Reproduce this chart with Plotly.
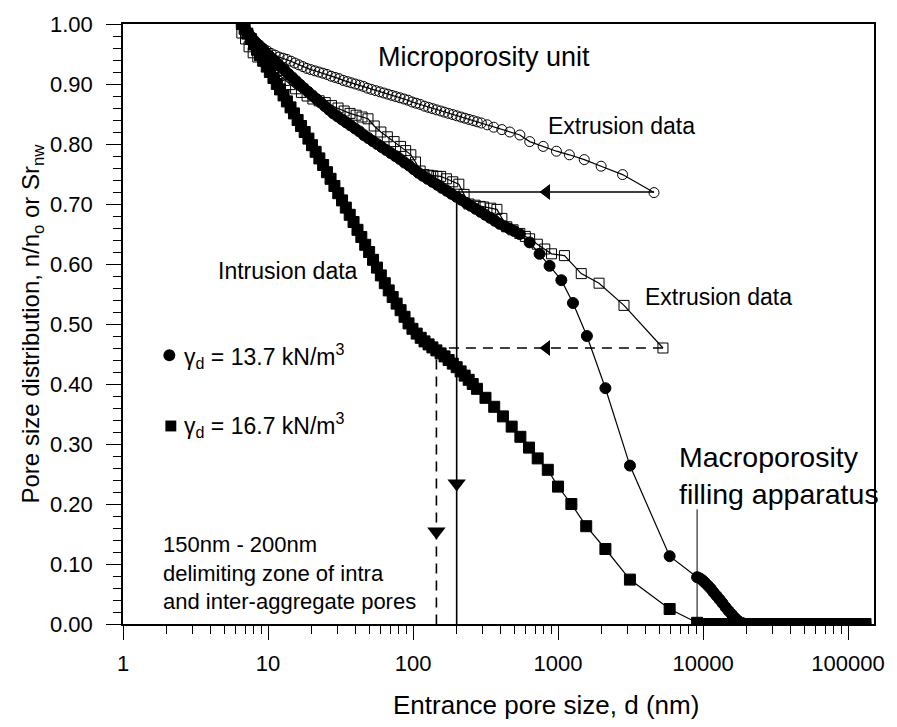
import numpy as np
import plotly.graph_objects as go

# ---------------- data ----------------
# gamma_d = 13.7 kN/m3, intrusion (filled circles)
fc_dense_x = [6.6, 6.9, 7.3, 7.7, 8.1, 8.6, 9.1, 9.6, 10.2, 10.8, 11.5, 12.2, 13.0, 13.8, 14.7,
              15.6, 16.6, 17.7, 18.9, 20.2, 21.6, 23.1, 24.7, 26.4, 28.2, 30.2, 32.3, 34.6, 37.1,
              39.8, 42.7, 45.8, 49.1, 52.7, 56.6, 60.8, 65.3, 70.2, 75.5, 81.2, 87.4, 94.1, 101,
              109, 117, 126, 136, 147, 158, 171, 184, 199, 215, 232, 250, 270, 292, 315, 340, 367,
              396, 428, 462, 499]
fc_dense_y = [1.000, 0.993, 0.985, 0.978, 0.971, 0.965, 0.959, 0.953, 0.947, 0.941, 0.935, 0.929,
              0.923, 0.917, 0.911, 0.905, 0.899, 0.893, 0.887, 0.881, 0.875, 0.869, 0.863, 0.857,
              0.851, 0.846, 0.841, 0.836, 0.831, 0.826, 0.821, 0.815, 0.810, 0.805, 0.800, 0.795,
              0.790, 0.785, 0.780, 0.775, 0.769, 0.764, 0.758, 0.752, 0.747, 0.742, 0.737, 0.732,
              0.727, 0.722, 0.717, 0.712, 0.707, 0.702, 0.697, 0.692, 0.687, 0.682, 0.677, 0.672,
              0.667, 0.663, 0.659, 0.655]
fc_sparse_x = [544, 637, 746, 874, 1054, 1268, 1582, 2122, 3133, 5885, 9100]
fc_sparse_y = [0.650, 0.636, 0.617, 0.597, 0.573, 0.535, 0.480, 0.393, 0.264, 0.113, 0.078]
fc_macro_x = [9500, 9900, 10300, 10800, 11300, 11800, 12400, 13000, 13600, 14300, 15000, 15800,
              16600, 17500, 18500, 19500]
fc_macro_y = [0.076, 0.073, 0.069, 0.064, 0.059, 0.053, 0.047, 0.041, 0.035, 0.028, 0.022, 0.016,
              0.010, 0.005, 0.002, 0.000]
tail_x = [20500, 21600, 22700, 23900, 25100, 26400, 27800, 29200, 30700, 32300, 34000, 35800,
          37600, 39600, 41600, 43800, 46000, 48400, 50900, 53600, 56400, 59300, 62400, 65600,
          69000, 72600, 76400, 80400, 84500, 88900, 93500, 98400, 103500, 108900, 114500, 120500,
          126700, 132000]
tail_y = [0.0, 0.0, 0.0, 0.0, 0.0, 0.0, 0.0, 0.0, 0.0, 0.0, 0.0, 0.0, 0.0, 0.0, 0.0, 0.0, 0.0,
          0.0, 0.0, 0.0, 0.0, 0.0, 0.0, 0.0, 0.0, 0.0, 0.0, 0.0, 0.0, 0.0, 0.0, 0.0, 0.0, 0.0,
          0.0, 0.0, 0.0, 0.0]

# gamma_d = 16.7 kN/m3, intrusion (filled squares)
fs_dense_x = [6.6, 6.9, 7.2, 7.6, 8.0, 8.4, 8.8, 9.3, 9.8, 10.3, 10.9, 11.5, 12.1, 12.8, 13.5,
              14.3, 15.1, 16.0, 16.9, 17.9, 19.0, 20.1, 21.3, 22.6, 24.0, 25.5, 27.0, 28.7, 30.5,
              32.4, 34.4, 36.6, 38.9, 41.4, 44.0, 46.8, 49.8, 53.0, 56.4, 60.0, 63.9, 68.0, 72.4,
              77.1, 82.1, 87.4, 93.1, 99.1, 106, 113, 120, 128, 136, 145, 155, 165, 176, 188, 200,
              213, 227, 242, 258, 276]
fs_dense_y = [1.000, 0.992, 0.984, 0.975, 0.966, 0.957, 0.948, 0.939, 0.929, 0.920, 0.910, 0.900,
              0.891, 0.881, 0.871, 0.861, 0.851, 0.840, 0.830, 0.820, 0.809, 0.798, 0.787, 0.776,
              0.765, 0.753, 0.742, 0.730, 0.718, 0.706, 0.694, 0.682, 0.670, 0.657, 0.645, 0.632,
              0.620, 0.607, 0.594, 0.581, 0.568, 0.556, 0.545, 0.534, 0.523, 0.512, 0.501, 0.492,
              0.484, 0.477, 0.471, 0.466, 0.461, 0.456, 0.451, 0.446, 0.440, 0.434, 0.428, 0.421,
              0.414, 0.407, 0.400, 0.392]
fs_mid_x = [316, 363, 417, 479, 550, 631, 724, 850]
fs_mid_y = [0.377, 0.362, 0.346, 0.329, 0.312, 0.294, 0.276, 0.257]
fs_sparse_x = [1000, 1236, 1565, 2122, 3133, 5885, 9100]
fs_sparse_y = [0.229, 0.200, 0.163, 0.125, 0.074, 0.025, 0.002]
fs_zero_x = [9600, 10100, 10700, 11300, 11900, 12600, 13300, 14000, 14800, 15600, 16500, 17400,
             18400, 19400]
fs_zero_y = [0.0, 0.0, 0.0, 0.0, 0.0, 0.0, 0.0, 0.0, 0.0, 0.0, 0.0, 0.0, 0.0, 0.0]

# gamma_d = 13.7 kN/m3, extrusion (open circles)
oc_x = [6.6, 7.0, 7.4, 7.8, 8.3, 8.8, 9.3, 9.9, 10.5, 11.2, 11.9, 12.7, 13.5, 14.4, 15.3, 16.3,
        17.4, 18.5, 19.7, 21.0, 22.4, 23.9, 25.5, 27.2, 29.0, 30.9, 33.0, 35.2, 37.5, 40.0, 42.7,
        45.5, 48.5, 51.7, 55.2, 58.9, 62.8, 67.0, 71.5, 76.2, 81.3, 86.7, 92.5, 98.7, 105, 112,
        120, 128, 136, 145, 155, 165, 176, 188, 200, 214, 228, 243, 260, 277, 296, 325, 360, 410,
        465, 546, 638, 790, 975, 1197, 1517, 1982, 2786, 4590]
oc_y = [1.000, 0.990, 0.982, 0.975, 0.969, 0.964, 0.959, 0.955, 0.951, 0.948, 0.945, 0.943,
        0.941, 0.938, 0.935, 0.932, 0.929, 0.926, 0.924, 0.922, 0.920, 0.918, 0.916, 0.913,
        0.911, 0.909, 0.906, 0.904, 0.902, 0.900, 0.898, 0.896, 0.893, 0.891, 0.889, 0.887,
        0.885, 0.883, 0.881, 0.879, 0.877, 0.875, 0.873, 0.870, 0.868, 0.866, 0.863, 0.861,
        0.859, 0.857, 0.855, 0.853, 0.851, 0.849, 0.847, 0.845, 0.843, 0.841, 0.839, 0.837,
        0.835, 0.832, 0.828, 0.824, 0.820, 0.815, 0.804, 0.796, 0.788, 0.782, 0.774, 0.763,
        0.749, 0.719]

# gamma_d = 16.7 kN/m3, extrusion (open squares)
os_x = [6.6, 7.0, 7.4, 7.9, 8.5, 9.2, 10.0, 10.9, 11.9, 13.0, 14.2, 15.5, 17.0, 18.6, 20.4, 22.5,
        24.8, 27.4, 30.4, 33.5, 36.8, 40.5, 44.5, 48.9, 54.0, 60.0, 66.5, 74.0, 82.0, 89.0, 96.6,
        104, 112, 119, 128, 137, 146, 155, 170, 188, 207, 225, 243, 268, 290, 307, 343, 379, 410,
        443, 490, 545, 595, 637, 720, 810, 902, 1107, 1446, 1918, 2851, 5290]
os_y = [0.985, 0.975, 0.962, 0.952, 0.945, 0.938, 0.930, 0.922, 0.914, 0.906, 0.899, 0.892,
        0.886, 0.880, 0.875, 0.872, 0.869, 0.864, 0.860, 0.855, 0.851, 0.848, 0.845, 0.842,
        0.830, 0.820, 0.812, 0.804, 0.796, 0.789, 0.782, 0.770, 0.755, 0.749, 0.748, 0.747,
        0.746, 0.746, 0.742, 0.737, 0.733, 0.716, 0.700, 0.698, 0.696, 0.695, 0.693, 0.691,
        0.676, 0.662, 0.657, 0.651, 0.646, 0.642, 0.633, 0.625, 0.617, 0.614, 0.584, 0.568,
        0.531, 0.460]

# guide lines
solid_guide_x = [4590, 200, 200]
solid_guide_y = [0.72, 0.72, 0.0]
dash_guide_x = [5290, 145, 145]
dash_guide_y = [0.46, 0.46, 0.0]
macro_line_x = [9100, 9100]
macro_line_y = [0.191, 0.0]
# arrowheads (marker centres)
arrow_left_x = [833, 833]
arrow_left_y = [0.72, 0.46]
arrow_down_x = [200, 145]
arrow_down_y = [0.234, 0.154]

x_tickvals = [1, 10, 100, 1000, 10000, 100000]
x_ticktext = ["1", "10", "100", "1000", "10000", "100000"]

# ---------------- figure ----------------
W, H = 897, 727
X0, X1, Y0, Y1 = 123.3, 880.0, 18.0, 624.0
def px(x):
    return (x - X0) / (X1 - X0)
def py(y):
    return (Y1 - y) / (Y1 - Y0)

FONT = "Liberation Sans, Arial, Helvetica, sans-serif"
fig = go.Figure()

def line_trace(x, y, width=1.5, dash="solid"):
    fig.add_trace(go.Scatter(x=x, y=y, mode="lines", line=dict(color="black", width=width, dash=dash),
                             showlegend=False, hoverinfo="skip"))

line_trace(solid_guide_x, solid_guide_y, 1.6)
line_trace(dash_guide_x, dash_guide_y, 1.6, "10px,7px")
line_trace(macro_line_x, macro_line_y, 1.0)

def arrow_trace(x, y, symbol, size):
    fig.add_trace(go.Scatter(x=x, y=y, mode="markers",
                             marker=dict(symbol=symbol, size=size, color="black",
                                         line=dict(width=0)),
                             showlegend=False, hoverinfo="skip"))

arrow_trace(arrow_left_x, arrow_left_y, "triangle-left", 14)
arrow_trace(arrow_down_x, arrow_down_y, "triangle-down", 16)

def series(x, y, symbol, size):
    fig.add_trace(go.Scatter(x=x, y=y, mode="lines+markers",
                             line=dict(color="black", width=1.2),
                             marker=dict(symbol=symbol, size=size, color="black",
                                         line=dict(color="black", width=1)),
                             showlegend=False, hoverinfo="skip"))

series(os_x, os_y, "square-open", 10)
series(oc_x, oc_y, "circle-open", 10)
series(fs_dense_x + fs_mid_x + fs_sparse_x + fs_zero_x + tail_x,
       fs_dense_y + fs_mid_y + fs_sparse_y + fs_zero_y + tail_y, "square", 11)
series(fc_dense_x + fc_sparse_x + fc_macro_x + tail_x,
       fc_dense_y + fc_sparse_y + fc_macro_y + tail_y, "circle", 11)

annotations = []

def label(text, x, y, size, xanchor="left"):
    annotations.append(dict(text=text, x=px(x), y=py(y), xref="paper", yref="paper",
                            xanchor=xanchor, yanchor="middle", align="left", showarrow=False,
                            font=dict(family=FONT, size=size, color="black")))

label("Microporosity unit", 378, 51, 27)
label("Extrusion data", 550, 121, 23)
label("Extrusion data", 647, 294, 23)
label("Intrusion data", 217, 267, 23)
label("γ<sub>d</sub> = 13.7 kN/m<sup>3</sup>", 183, 353, 23)
label("γ<sub>d</sub> = 16.7 kN/m<sup>3</sup>", 183, 423, 23)
label("Macroporosity<br>filling apparatus", 682, 474, 28.5)
label("150nm - 200nm<br>delimiting zone of intra<br>and inter-aggregate pores", 162, 572, 22)
# x-axis title (offset to the right of the plot centre, as in the reference)
label("Entrance pore size, d (nm)", 550, 706, 26, xanchor="center")

shapes = [
    dict(type="circle", xref="paper", yref="paper", x0=px(164), x1=px(176), y0=py(358.5), y1=py(346.5),
         fillcolor="black", line=dict(color="black", width=0)),
    dict(type="rect", xref="paper", yref="paper", x0=px(166), x1=px(177), y0=py(429.5), y1=py(418.5),
         fillcolor="black", line=dict(color="black", width=0)),
]

minor_x = [m * 10 ** e for e in range(0, 6) for m in range(2, 10)]

fig.update_layout(
    width=W, height=H,
    margin=dict(l=X0, r=W - X1, t=Y0, b=H - Y1, pad=0),
    paper_bgcolor="white", plot_bgcolor="white",
    font=dict(family=FONT, size=22, color="black"),
    showlegend=False,
    annotations=annotations,
    shapes=shapes,
    xaxis=dict(type="log", range=[0, np.log10(151000)], tickvals=x_tickvals, ticktext=x_ticktext,
               ticks="outside", ticklen=14, tickwidth=1.3, tickcolor="black",
               showline=True, linecolor="black", linewidth=1.5, mirror=True,
               showgrid=False, zeroline=False, ticklabelstandoff=5,
               tickfont=dict(family=FONT, size=22),
               minor=dict(tickvals=minor_x, ticks="outside", ticklen=8, tickwidth=1.1,
                          tickcolor="black", showgrid=False)),
    yaxis=dict(range=[0, 1], dtick=0.1, tick0=0, tickformat=".2f",
               ticks="outside", ticklen=15, tickwidth=1.3, tickcolor="black",
               showline=True, linecolor="black", linewidth=1.5, mirror=True,
               showgrid=False, zeroline=False, ticklabelstandoff=9,
               tickfont=dict(family=FONT, size=22),
               minor=dict(dtick=0.02, ticks="outside", ticklen=8, tickwidth=1.1,
                          tickcolor="black", showgrid=False),
               title=dict(text="Pore size distribution, n/n<sub>o</sub> or Sr<sub>nw</sub>",
                          font=dict(family=FONT, size=24), standoff=4)),
)

fig.write_html("out.html")
